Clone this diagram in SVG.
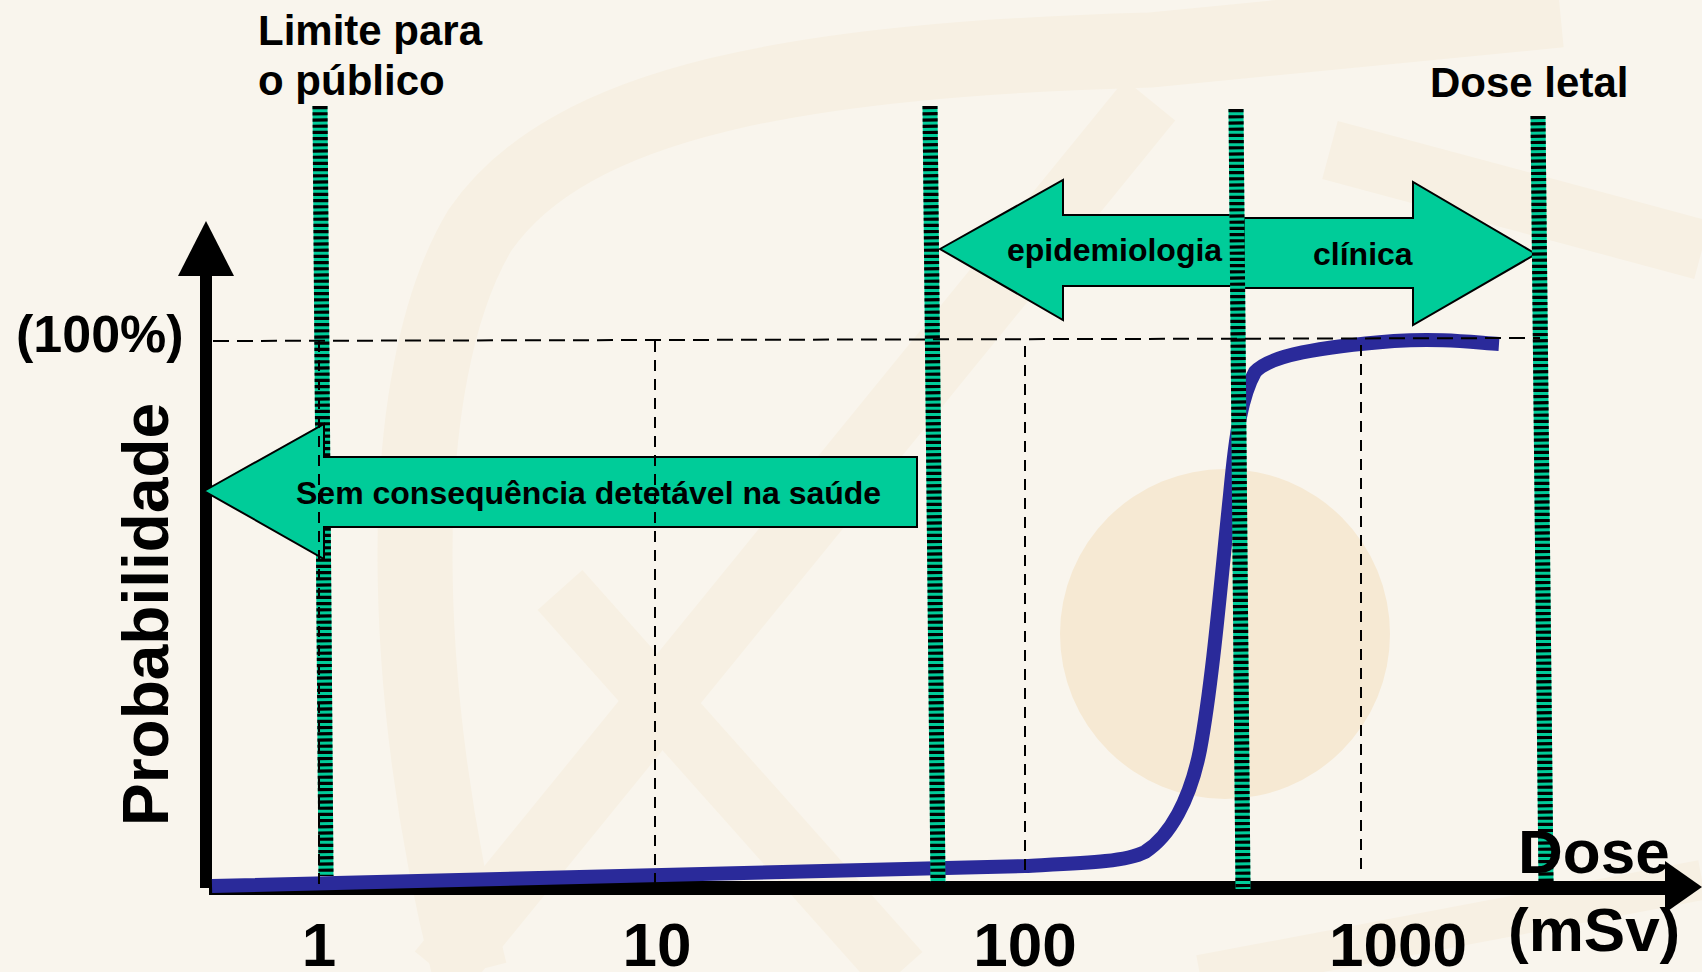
<svg xmlns="http://www.w3.org/2000/svg" width="1702" height="972" viewBox="0 0 1702 972">
<style>
.t{font-family:"Liberation Sans",Arial,sans-serif;font-weight:bold;fill:#000}
.deco{fill:none;stroke:#f7f0e3;stroke-linecap:butt}
.band{fill:#00cc99;stroke:#000;stroke-width:2;stroke-linejoin:miter}
.sg{stroke:#00cc99;stroke-width:15;fill:none}
.sb{stroke:#000;stroke-width:15;stroke-dasharray:3.2 3;fill:none}
.dh{stroke:#000;stroke-width:2;stroke-dasharray:16 8;fill:none}
.dv{stroke:#000;stroke-width:2;stroke-dasharray:11 8;fill:none}
</style>
<g id="background">
<rect x="0" y="0" width="1702" height="972" fill="#f9f5ed"/>
<path class="deco" stroke-width="75" d="M 470 972 C 400 700 390 380 480 230 C 570 100 800 60 1150 50 L 1560 10"/>
<path class="deco" stroke-width="65" d="M 1150 100 L 440 972"/>
<path class="deco" stroke-width="60" d="M 560 590 L 900 972"/>
<path class="deco" stroke-width="60" d="M 1330 150 L 1702 250"/>
<path class="deco" stroke-width="40" d="M 1200 975 L 1702 880"/>
<ellipse cx="1225" cy="634" rx="165" ry="165" fill="#f6e9d3"/>
</g>
<g id="axes">
<line x1="206" y1="888" x2="206" y2="270" stroke="#000" stroke-width="12"/>
<polygon points="206,221 234,276 178,276" fill="#000"/>
<line x1="209" y1="888" x2="1668" y2="888" stroke="#000" stroke-width="14"/>
<polygon points="1665,861 1702,887 1665,913" fill="#000"/>
</g>
<g id="curve">
<path d="M 212 886 L 1025 866 C 1085 863 1125 862 1145 852 C 1170 836 1190 800 1200 750 C 1213 680 1222 570 1230 495 C 1236 430 1242 395 1255 372 C 1270 355 1320 347 1394 341 C 1440 338 1470 342 1499 344" fill="none" stroke="#2a2a9a" stroke-width="14"/>
</g>
<g id="line-limite">
<line class="sg" x1="320" y1="106" x2="326" y2="876"/>
<line class="sb" x1="320" y1="106" x2="326" y2="876"/>
</g>
<g id="arrow-sem">
<polygon class="band" points="204,491 324,424 324,457 917,457 917,527 324,527 324,559"/>
<text class="t" x="296" y="504" font-size="32">Sem consequência detetável na saúde</text>
</g>
<g id="arrow-epidemiologia">
<polygon class="band" points="940,249 1063,180 1063,215 1240,215 1240,286 1063,286 1063,320"/>
<text class="t" x="1007" y="261" font-size="32">epidemiologia</text>
</g>
<g id="arrow-clinica">
<polygon class="band" points="1536,254 1413,182 1413,218 1244,218 1244,288 1413,288 1413,325"/>
<text class="t" x="1313" y="265" font-size="32">clínica</text>
</g>
<g id="line-2">
<line class="sg" x1="930" y1="106" x2="938" y2="882"/>
<line class="sb" x1="930" y1="106" x2="938" y2="882"/>
</g>
<g id="line-3">
<line class="sg" x1="1236" y1="109" x2="1243" y2="889"/>
<line class="sb" x1="1236" y1="109" x2="1243" y2="889"/>
</g>
<g id="line-letal">
<line class="sg" x1="1538" y1="116" x2="1546" y2="881"/>
<line class="sb" x1="1538" y1="116" x2="1546" y2="881"/>
</g>
<g id="connectors">
<line class="dh" x1="213" y1="341" x2="1540" y2="338"/>
<line class="dv" x1="319" y1="341" x2="319" y2="888"/>
<line class="dv" x1="655" y1="341" x2="655" y2="884"/>
<line class="dv" x1="1025" y1="346" x2="1025" y2="876"/>
<line class="dv" x1="1361" y1="345" x2="1361" y2="876"/>
</g>
<g id="labels">
<text class="t" x="258" y="45" font-size="42">Limite para</text>
<text class="t" x="258" y="95" font-size="42">o público</text>
<text class="t" x="1430" y="97" font-size="42">Dose letal</text>
<text class="t" x="16" y="352" font-size="52">(100%)</text>
<text class="t" font-size="64" transform="translate(168,826) rotate(-90)">Probabilidade</text>
<text class="t" x="1518" y="873" font-size="62">Dose</text>
<text class="t" x="1508" y="951" font-size="62">(mSv)</text>
<text class="t" x="319" y="966" font-size="62" text-anchor="middle">1</text>
<text class="t" x="657" y="966" font-size="62" text-anchor="middle">10</text>
<text class="t" x="1025" y="966" font-size="62" text-anchor="middle">100</text>
<text class="t" x="1398" y="966" font-size="62" text-anchor="middle">1000</text>
</g>
</svg>
